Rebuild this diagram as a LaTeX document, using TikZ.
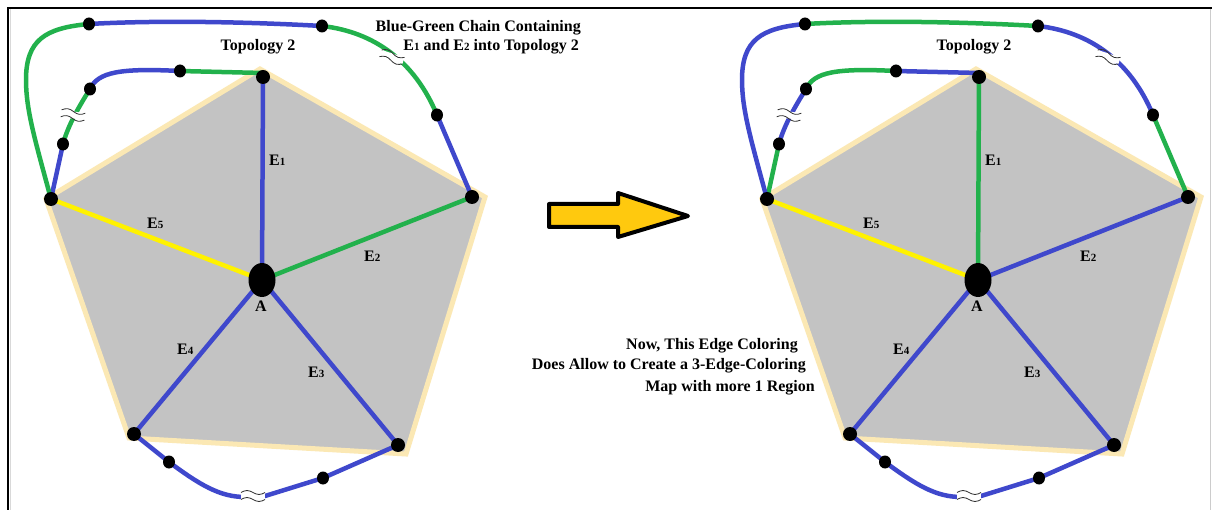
\documentclass[tikz,border=0pt]{standalone}
\usepackage{fontspec}
\setmainfont{Liberation Serif}
\usetikzlibrary{shapes.geometric}
\pgfdeclarelayer{bg}
\pgfsetlayers{bg,main}
\definecolor{pblue}{HTML}{3F48CC}
\definecolor{pgreen}{HTML}{22B14C}
\definecolor{pyellow}{HTML}{FFF200}
\definecolor{pgray}{HTML}{C3C3C3}
\definecolor{pborder}{HTML}{FBE8B4}
\definecolor{parrow}{HTML}{FFC90E}
\newcommand\esub[1]{{\fontsize{11}{11}\selectfont #1}}
\tikzset{
  edgeline/.style={line width=4.5pt},
  chainline/.style={line width=4.5pt},
  vdot/.style={ellipse, fill=black, inner sep=0pt, minimum width=14pt, minimum height=14pt},
  cdot/.style={ellipse, fill=black, inner sep=0pt, minimum width=12pt, minimum height=13pt},
  hub/.style={ellipse, fill=black, inner sep=0pt, minimum width=27pt, minimum height=34pt},
  lbl/.style={inner sep=0pt, font=\fontsize{16}{18}\selectfont\bfseries},
  brk/.pic={
    \fill[white] (-12,-3.5) rectangle (12,3.5);
    \draw[black!80, line width=0.8pt] (-12,-3.5) sin (-6,-5.5) cos (0,-3.5) sin (6,-1.5) cos (12,-3.5);
    \draw[black!80, line width=0.8pt] (-12,3.5) sin (-6,1.5) cos (0,3.5) sin (6,5.5) cos (12,3.5);
  }
}
\newcommand\topodiagram[4]{%
\begin{scope}[xshift=#1, name prefix=#4-]
  \node[hub] (A) at (262,280) {};
  \node[vdot] (T) at (263,77) {};
  \node[vdot] (L) at (51,199) {};
  \node[vdot] (R) at (472,197) {};
  \node[vdot] (BL) at (134,434) {};
  \node[vdot] (BR) at (398,445) {};
  \node[cdot] (d1) at (180,71) {};
  \node[cdot] (d2) at (90,89) {};
  \node[cdot] (d3) at (63,144) {};
  \node[cdot] (o1) at (89,24) {};
  \node[cdot] (o2) at (322,26) {};
  \node[cdot] (o3) at (437,115) {};
  \node[cdot] (b1) at (169,462) {};
  \node[cdot] (b2) at (323,478) {};
  \begin{pgfonlayer}{bg}
    \filldraw[fill=pgray, draw=pborder, line width=5pt] (260,69) -- (485,197) -- (406,454) -- (129,438) -- (46,199) -- cycle;
    \draw[edgeline, #2] (A.center) -- (T.center);
    \draw[edgeline, #3] (A.center) -- (R.center);
    \draw[edgeline, pyellow] (A.center) -- (L.center);
    \draw[edgeline, pblue] (A.center) -- (BR.center);
    \draw[edgeline, pblue] (A.center) -- (BL.center);
    \draw[chainline, #3] ([yshift=4pt]T.center) -- (d1.center);
    \draw[chainline, #2] (d1.center) .. controls (120,68) and (98,72) .. (d2.center);
    \draw[chainline, #3] (d2.center) .. controls (80,105) and (68,125) .. (d3.center);
    \draw[chainline, #2] (d3.center) -- (L.center);
    \draw[chainline, #3] (L.center) .. controls (35,140) and (26,110) .. (26,80) .. controls (26,40) and (45,28) .. (o1.center);
    \draw[chainline, #2] (o1.center) .. controls (160,20) and (250,22) .. (o2.center);
    \draw[chainline, #3] (o2.center) .. controls (375,32) and (415,62) .. (o3.center);
    \draw[chainline, #2] (o3.center) -- (R.center);
    \draw[chainline, pblue] (BL.center) -- (b1.center) .. controls (200,485) and (220,497) .. (245,497) -- (265,496) -- (b2.center) -- (BR.center);
  \end{pgfonlayer}
  \pic[rotate=-8] at (73,115) {brk};
  \pic[rotate=-18] at (392,57) {brk};
  \pic at (253,496) {brk};
  \node[lbl, anchor=base west] (e1) at (269,166) {E\esub{1}};
  \node[lbl, anchor=base west] (e5) at (147,229) {E\esub{5}};
  \node[lbl, anchor=base west] (e2) at (364,262) {E\esub{2}};
  \node[lbl, anchor=base west] (e4) at (177,354) {E\esub{4}};
  \node[lbl, anchor=base west] (e3) at (308,377) {E\esub{3}};
  \node[lbl, anchor=base] (alabel) at (261,312) {A};
  \node[lbl, anchor=base] (topo) at (258,51) {Topology 2};
\end{scope}}
\begin{document}
\begin{tikzpicture}[x=1pt, y=-1pt]
  \useasboundingbox (0,0) rectangle (1212,510);
  \begin{pgfonlayer}{bg}
    \fill[white] (0,0) rectangle (1212,510);
  \end{pgfonlayer}
  \draw[black!15, line width=1pt] (10,9) -- (10,510);
  \draw[black, line width=1.6pt] (8,510) -- (8,8) -- (1212,8);
  \draw[black!20, line width=1pt] (1210,9) -- (1210,510);
  \topodiagram{0pt}{pblue}{pgreen}{left}
  \topodiagram{716pt}{pgreen}{pblue}{right}
  \draw[black, line width=4pt, line join=round, fill=parrow] (549,204) -- (618,204) -- (618,193) -- (688,216) -- (618,237) -- (618,227) -- (549,227) -- cycle;
  \node[lbl, anchor=base east] (t1) at (581,32) {Blue-Green Chain Containing};
  \node[lbl, anchor=base east] (t2) at (579,51) {E\esub{1} and E\esub{2} into Topology 2};
  \node[lbl, anchor=base east] (n1) at (798,349) {Now, This Edge Coloring};
  \node[lbl, anchor=base east] (n2) at (806,370) {Does Allow to Create a 3-Edge-Coloring};
  \node[lbl, anchor=base east] (n3) at (815,391) {Map with more 1 Region};
\end{tikzpicture}
\end{document}
